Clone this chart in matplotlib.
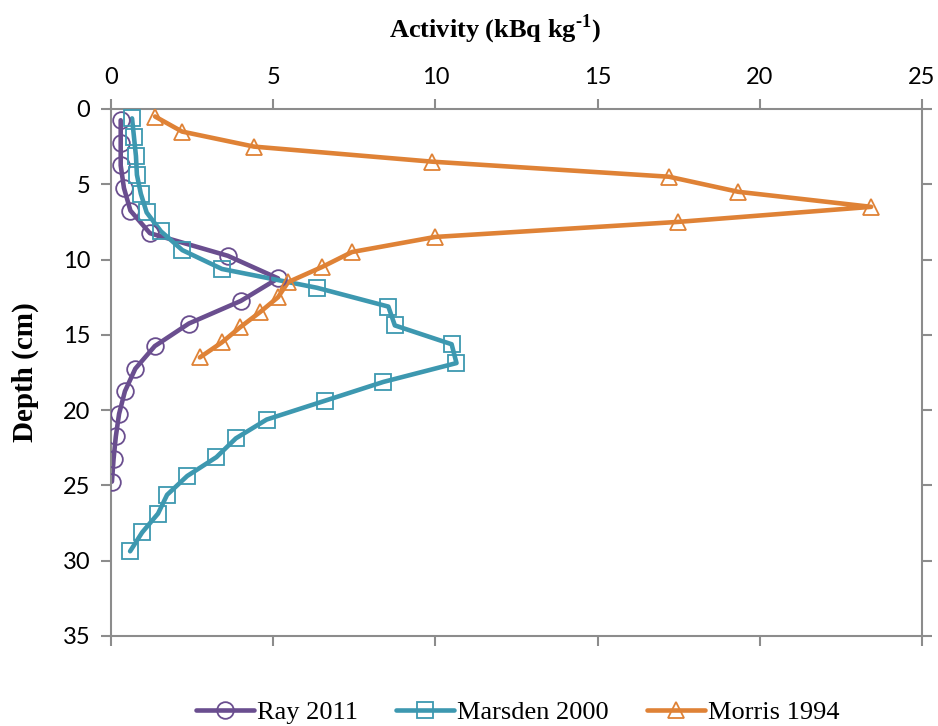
import numpy as np
import matplotlib
matplotlib.use("Agg")
import matplotlib.pyplot as plt
from matplotlib.lines import Line2D

plt.rcParams["mathtext.fontset"] = "custom"
plt.rcParams["mathtext.rm"] = "Liberation Serif"
plt.rcParams["mathtext.bf"] = "Liberation Serif:bold"

# Ray 2011 (circles)
ray_depth = [0.75, 2.25, 3.75, 5.25, 6.75, 8.25, 9.75, 11.25, 12.75, 14.25,
             15.75, 17.25, 18.75, 20.25, 21.75, 23.25, 24.75]
ray_act = [0.3, 0.3, 0.3, 0.4, 0.6, 1.2, 3.6, 5.15, 4.0, 2.4,
           1.35, 0.75, 0.43, 0.25, 0.15, 0.08, 0.03]

# Marsden 2000 (squares)
marsden_depth = [0.625, 1.875, 3.125, 4.375, 5.625, 6.875, 8.125, 9.375,
                 10.625, 11.875, 13.125, 14.375, 15.625, 16.875, 18.125,
                 19.375, 20.625, 21.875, 23.125, 24.375, 25.625, 26.875,
                 28.125, 29.375]
marsden_act = [0.65, 0.71, 0.77, 0.8, 0.92, 1.1, 1.54, 2.2,
               3.42, 6.35, 8.55, 8.75, 10.5, 10.65, 8.4,
               6.6, 4.8, 3.85, 3.25, 2.35, 1.73, 1.45,
               0.96, 0.59]

# Morris 1994 (triangles)
morris_depth = [0.5, 1.5, 2.5, 3.5, 4.5, 5.5, 6.5, 7.5, 8.5, 9.5,
                10.5, 11.5, 12.5, 13.5, 14.5, 15.5, 16.5]
morris_act = [1.36, 2.19, 4.41, 9.9, 17.2, 19.33, 23.43, 17.48, 9.99, 7.43,
              6.5, 5.46, 5.15, 4.59, 3.98, 3.42, 2.74]

series = [
    ("Ray 2011", ray_act, ray_depth, "#6A4E8F", "o"),
    ("Marsden 2000", marsden_act, marsden_depth, "#3D98B0", "s"),
    ("Morris 1994", morris_act, morris_depth, "#DF8236", "^"),
]

fig = plt.figure(figsize=(9.38, 7.26), dpi=100)
ax = fig.add_axes([0.1183, 0.124, 0.8647, 0.7259])

handles = []
for name, xs, ys, col, mk in series:
    ax.plot(xs, ys, color=col, lw=3.3, solid_capstyle="round",
            solid_joinstyle="round", zorder=2)
    ax.plot(xs, ys, linestyle="none", marker=mk, markersize=12,
            markerfacecolor="none", markeredgecolor=col,
            markeredgewidth=1.3, zorder=3)
    handles.append(Line2D([], [], color=col, lw=3.3, marker=mk,
                          markersize=12, markerfacecolor="none",
                          markeredgecolor=col, markeredgewidth=1.3,
                          solid_capstyle="round", label=name))

ax.set_xlim(0, 25)
ax.set_ylim(35, 0)
ax.set_xticks(np.arange(0, 26, 5))
ax.set_yticks(np.arange(0, 36, 5))

for s in ax.spines.values():
    s.set_color("#8C8C8C")
    s.set_linewidth(1.5)

ax.tick_params(axis="both", which="both", direction="out", length=7,
               width=1.5, color="#8C8C8C", labelsize=17, pad=8,
               top=True, bottom=True, left=True, right=True,
               labeltop=True, labelbottom=False)
for lab in ax.get_xticklabels() + ax.get_yticklabels():
    lab.set_fontfamily("Lato")

ax.xaxis.set_label_position("top")
ax.set_xlabel("Activity (kBq kg$^{\\mathbf{\u20101}}$)",
              fontfamily="Liberation Serif", fontweight="bold",
              fontsize=19, labelpad=21)
ax.xaxis.label.set_x(0.474)
ax.set_ylabel("Depth (cm)", fontfamily="Liberation Serif",
              fontweight="bold", fontsize=21, labelpad=17)

fig.legend(handles=handles, loc="lower center", bbox_to_anchor=(0.552, -0.03),
           ncol=3, frameon=False, handlelength=2.2, columnspacing=1.45,
           handletextpad=0.1, prop={"family": "Liberation Serif", "size": 19})

fig.savefig("out.png", dpi=100)
